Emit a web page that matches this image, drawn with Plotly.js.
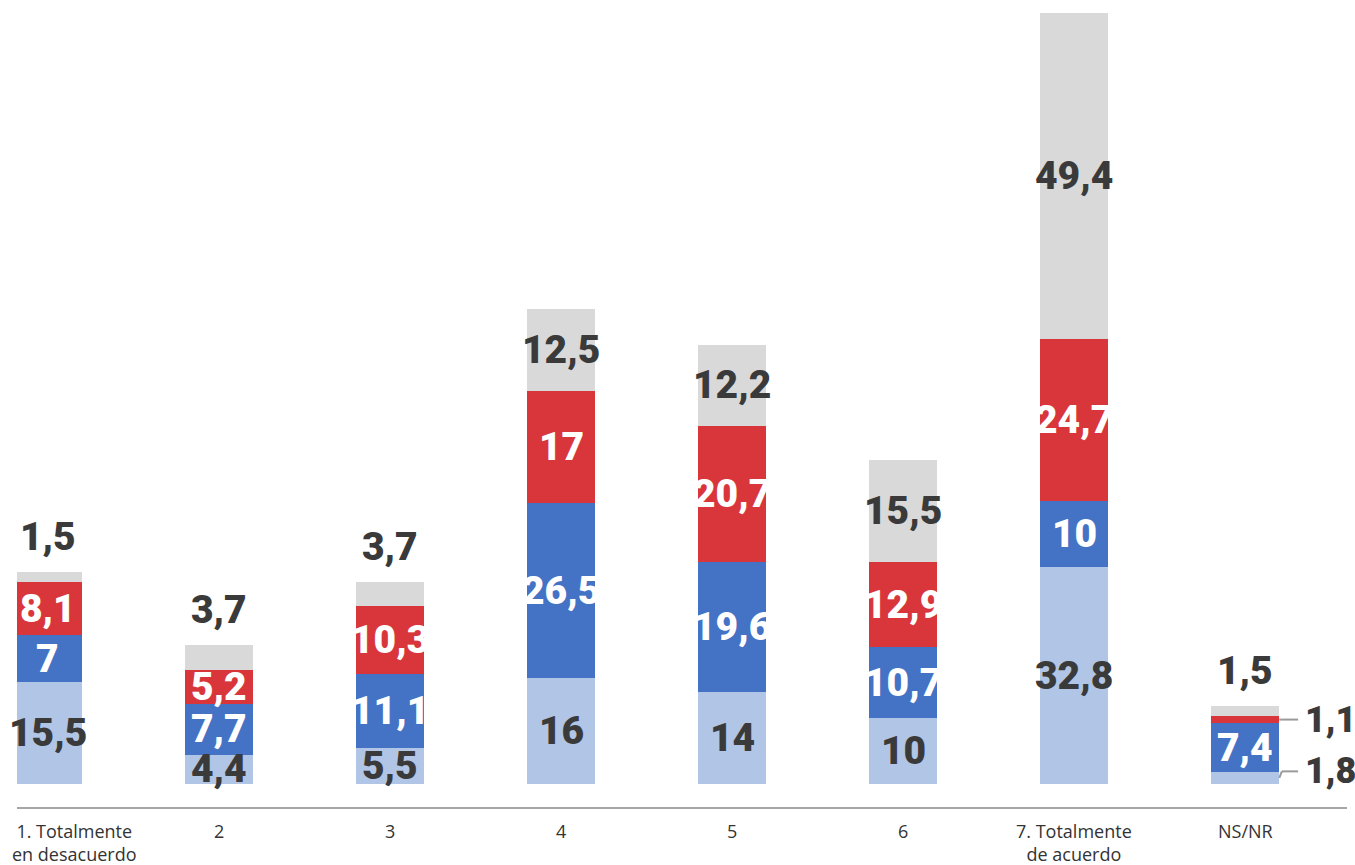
<!DOCTYPE html>
<html><head><meta charset="utf-8">
<script src="https://cdn.plot.ly/plotly-3.0.1.min.js"></script>
<style>html,body{margin:0;padding:0;background:#fff;}#chart{width:1355px;height:865px;}</style>
</head><body><div id="chart"></div>
<script>
const categories = ["1. Totalmente<br>en desacuerdo", "2", "3", "4", "5", "6", "7. Totalmente<br>de acuerdo", "NS/NR"];
const seriesA = [15.5, 4.4, 5.5, 16, 14, 10, 32.8, 1.8];   // light blue (bottom)
const seriesB = [7, 7.7, 11.1, 26.5, 19.6, 10.7, 10, 7.4];  // blue
const seriesC = [8.1, 5.2, 10.3, 17, 20.7, 12.9, 24.7, 1.1]; // red
const seriesD = [1.5, 3.7, 3.7, 12.5, 12.2, 15.5, 49.4, 1.5]; // gray (top)

const allSeries = [seriesA, seriesB, seriesC, seriesD];
const colors = ["#b1c5e6", "#4472c4", "#d9363b", "#d9d9d9"];
const textColors = ["#3a3a3a", "#ffffff", "#ffffff", "#3a3a3a"];
const labelFont = "Roboto, Liberation Sans, sans-serif";
const catFont = {family: "Open Sans, Lato, sans-serif", size: 18, color: "#333"};

const xs = categories.map((c, i) => i);
const traces = allSeries.map((vals, s) => ({
  type: "bar", x: xs, y: vals, width: 0.4,
  marker: {color: colors[s], line: {width: 0}},
  hoverinfo: "skip", showlegend: false
}));

const fmt = v => String(v).replace(".", ",");
const annotations = [];
const shapes = [];
const lastIdx = categories.length - 1;
for (let i = 0; i < categories.length; i++) {
  // category label
  annotations.push({
    x: i, y: 0, xref: "x", yref: "paper", text: categories[i],
    showarrow: false, xanchor: i === 0 ? "left" : "center", xshift: i === 0 ? -37 : 0,
    yanchor: "top", align: "center", yshift: -11, borderpad: 0, font: catFont
  });
  let base = 0;
  for (let s = 0; s < allSeries.length; s++) {
    const v = allSeries[s][i];
    const mid = base + v / 2;
    const top = base + v;
    const f = {family: labelFont, size: 39, color: textColors[s], weight: 900};
    if (i === lastIdx && (s === 0 || s === 2)) {
      f.color = "#3a3a3a";
      f.size = 36;
      const ly = s === 0 ? mid + 1.0 : mid;
      shapes.push({type: "line", xref: "x", yref: "y", x0: i + 0.2, y0: mid, x1: i + 0.215, y1: ly, line: {color: "#9a9a9a", width: 2}});
      shapes.push({type: "line", xref: "x", yref: "y", x0: i + 0.215, y0: ly, x1: i + 0.31, y1: ly, line: {color: "#9a9a9a", width: 2}});
      annotations.push({x: i + 0.34, y: ly, xref: "x", yref: "y", text: fmt(v), showarrow: false, xanchor: "left", yanchor: "middle", font: f});
    } else if (s === 3 && v < 4) {
      f.color = "#3a3a3a";
      annotations.push({x: i, y: top, xref: "x", yref: "y", text: fmt(v), showarrow: false, xanchor: "center", yanchor: "bottom", yshift: 10, font: f});
    } else {
      annotations.push({x: i, y: mid, xref: "x", yref: "y", text: fmt(v), showarrow: false, xanchor: "center", yanchor: "middle", font: f});
    }
    base = top;
  }
}

const layout = {
  width: 1355, height: 865,
  margin: {l: 17, r: 8, t: 0, b: 58},
  paper_bgcolor: "#fff", plot_bgcolor: "#fff",
  barmode: "stack",
  xaxis: {
    tickmode: "array", tickvals: xs, ticktext: categories, showticklabels: false,
    range: [-0.181, 7.596], showgrid: false, zeroline: false,
    showline: true, linecolor: "#a6a6a6", linewidth: 1.5,
    ticks: "", fixedrange: true, automargin: false
  },
  yaxis: {range: [-3.5, 118.8], visible: false, showgrid: false, zeroline: false, fixedrange: true},
  annotations: annotations,
  shapes: shapes
};
Plotly.newPlot("chart", traces, layout, {displayModeBar: false, staticPlot: true});
</script></body></html>
